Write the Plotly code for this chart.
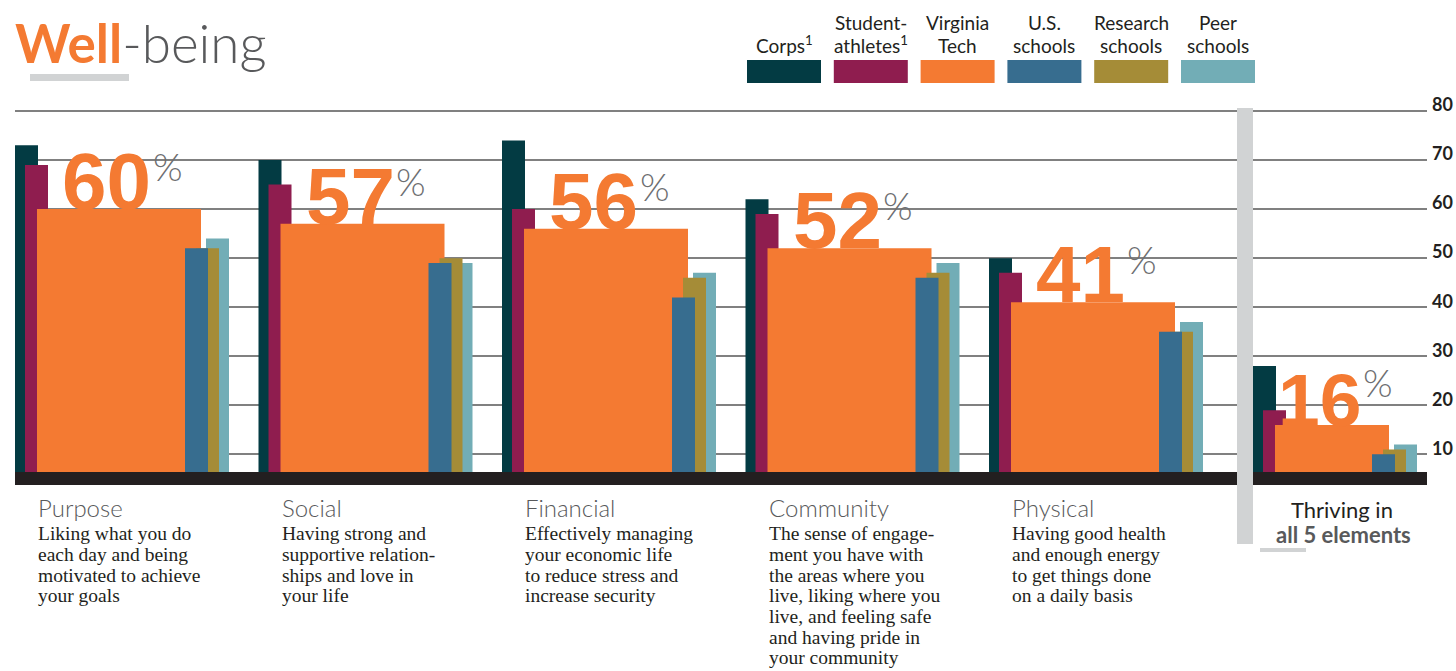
import plotly.graph_objects as go

# ---- data ----
categories = ['Purpose', 'Social', 'Financial', 'Community', 'Physical', 'Thriving']
series = ['Corps', 'Student-athletes', 'Virginia Tech', 'U.S. schools', 'Research schools', 'Peer schools']
corps = [73, 70, 74, 62, 50, 28]
student_athletes = [69, 65, 60, 59, 47, 19]
virginia_tech = [60, 57, 56, 52, 41, 16]
us_schools = [52, 49, 42, 46, 35, 10]
research_schools = [52, 50, 46, 47, 35, 11]
peer_schools = [54, 49, 47, 49, 37, 12]
y_ticks = [10, 20, 30, 40, 50, 60, 70, 80]

legend_lines = [['', 'Corps<sup>1</sup>'], ['Student-', 'athletes<sup>1</sup>'], ['Virginia', 'Tech'],
                ['U.S.', 'schools'], ['Research', 'schools'], ['Peer', 'schools']]
element_text = [
    ['Liking what you do', 'each day and being', 'motivated to achieve', 'your goals'],
    ['Having strong and', 'supportive relation-', 'ships and love in', 'your life'],
    ['Effectively managing', 'your economic life', 'to reduce stress and', 'increase security'],
    ['The sense of engage-', 'ment you have with', 'the areas where you', 'live, liking where you',
     'live, and feeling safe', 'and having pride in', 'your community'],
    ['Having good health', 'and enough energy', 'to get things done', 'on a daily basis'],
]

colors = {'Corps': '#033b43', 'Student-athletes': '#8f1d4f', 'Virginia Tech': '#f47a32',
          'U.S. schools': '#376d8f', 'Research schools': '#a58c37', 'Peer schools': '#72adb6'}
values = {'Corps': corps, 'Student-athletes': student_athletes, 'Virginia Tech': virginia_tech,
          'U.S. schools': us_schools, 'Research schools': research_schools, 'Peer schools': peer_schools}

# ---- layout in pixels ----
W, H = 1456, 671
L, R, T, B = 15, 1427, 100, 485
PX = 243.5            # pixels per category
C0 = 122              # pixel centre of first category
PPU = 4.905           # pixels per percentage point
Y0 = 503.4            # pixel of value 0

# bar offset / width in pixels from the category centre: (normal groups, thriving group)
geom = {
    'Corps': ((-107, 23), (-86.5, 23)),
    'Student-athletes': ((-97, 23), (-76.5, 23)),
    'Virginia Tech': ((-85, 164), (-64.5, 114)),
    'U.S. schools': ((63, 23), (32.5, 23)),
    'Research schools': ((74, 23), (43.5, 23)),
    'Peer schools': ((84, 23), (54.5, 23)),
}
draw_order = ['Corps', 'Student-athletes', 'Virginia Tech', 'Peer schools', 'Research schools', 'U.S. schools']


def px_x(p):
    return (p - L) / (R - L)


def px_y(p):
    return (B - p) / (B - T)


def per_group(name, k):
    return [geom[name][1 if i == len(categories) - 1 else 0][k] / PX for i in range(len(categories))]


fig = go.Figure()
for name in draw_order:
    fig.add_trace(go.Bar(x=categories, y=values[name], name=name, offset=per_group(name, 0),
                         width=per_group(name, 1), marker=dict(color=colors[name], line=dict(width=0)),
                         hoverinfo='skip'))


def text(x, baseline, s, size, color, family, anchor='left', weight='normal'):
    fig.add_annotation(xref='paper', yref='paper', x=px_x(x), y=px_y(baseline + 0.215 * size),
                       xanchor=anchor, yanchor='bottom', text=s, showarrow=False, borderpad=0,
                       font=dict(size=size, color=color, family=family, weight=weight))


# big percentage labels on the Virginia Tech bars
for i, v in enumerate(virginia_tech):
    off, wid = geom['Virginia Tech'][1 if i == len(categories) - 1 else 0]
    size = 75 if i == len(categories) - 1 else 80
    cx = off + wid / 2 - 12.5
    fig.add_annotation(x=categories[i], y=v, xshift=cx, yshift=-18, xanchor='center', yanchor='bottom',
                       text=str(v), showarrow=False, borderpad=0,
                       font=dict(size=size, color=colors['Virginia Tech'], family='Liberation Sans', weight='bold'))
    fig.add_annotation(x=categories[i], y=v, xshift=cx + 0.556 * size + 1, yshift=19, xanchor='left',
                       yanchor='bottom', text='%', showarrow=False, borderpad=0,
                       font=dict(size=38, color='#6d6e71', family='Lato', weight=300))

# title
text(14, 64, "<b><span style='color:#f47a32'>Well</span></b>-being", 53, '#58595b', 'Lato', weight=300)

# legend
for i, name in enumerate(series):
    x0 = 747 + i * 86.8
    fig.add_shape(type='rect', xref='paper', yref='paper', x0=px_x(x0), x1=px_x(x0 + 74),
                  y0=px_y(83), y1=px_y(60), fillcolor=colors[name], line=dict(width=0))
    for j, line in enumerate(legend_lines[i]):
        if line:
            text(x0 + 37, 31 + j * 23, line, 19, '#231f20', 'Lato', anchor='center')

# element captions
for i, lines in enumerate(element_text):
    x0 = C0 + i * PX + geom['Virginia Tech'][0][0]
    text(x0, 518, categories[i], 24, '#58595b', 'Lato', weight=300)
    for j, line in enumerate(lines):
        text(x0, 541 + j * 20.7, line, 19.5, '#231f20', 'Liberation Serif')

text(1342, 519, 'Thriving in', 22, '#231f20', 'Lato', anchor='center')
text(1343, 544, 'all 5 elements', 22, '#58595b', 'Lato', anchor='center', weight='bold')

# decorations: baseline band, divider, underlines
fig.add_shape(type='rect', xref='paper', yref='paper', x0=0, x1=1, y0=0, y1=px_y(472),
              fillcolor='#231f20', line=dict(width=0), layer='above')
fig.add_shape(type='rect', xref='paper', yref='paper', x0=px_x(1237), x1=px_x(1253), y0=px_y(544),
              y1=px_y(108), fillcolor='#d1d3d4', line=dict(width=0), layer='above')
fig.add_shape(type='rect', xref='paper', yref='paper', x0=px_x(30), x1=px_x(129), y0=px_y(81),
              y1=px_y(74), fillcolor='#d1d3d4', line=dict(width=0))
fig.add_shape(type='rect', xref='paper', yref='paper', x0=px_x(1260), x1=px_x(1306), y0=px_y(552),
              y1=px_y(548), fillcolor='#d1d3d4', line=dict(width=0))

fig.update_layout(
    width=W, height=H, margin=dict(l=L, r=W - R, t=T, b=H - B, autoexpand=False),
    paper_bgcolor='white', plot_bgcolor='white', barmode='overlay', showlegend=False,
    xaxis=dict(range=[-(C0 - L) / PX, (R - C0) / PX], showticklabels=False, showgrid=False,
               zeroline=False, fixedrange=True, automargin=False),
    yaxis=dict(range=[(Y0 - B) / PPU, (Y0 - T) / PPU], side='right', tickvals=y_ticks,
               showgrid=True, gridcolor='#808080', gridwidth=1.5, zeroline=False, ticks='',
               ticklabelstandoff=4, ticklabelshift=-6, automargin=False,
               tickfont=dict(size=18, color='#231f20', family='Lato', weight='bold'), fixedrange=True),
    hovermode=False,
)

# the page body has a default 8px margin; drop it so the figure sits at the window origin
fig.write_html('out.html', config={'displayModeBar': False},
               post_script="document.body.style.margin='0';document.body.style.overflow='hidden';")
